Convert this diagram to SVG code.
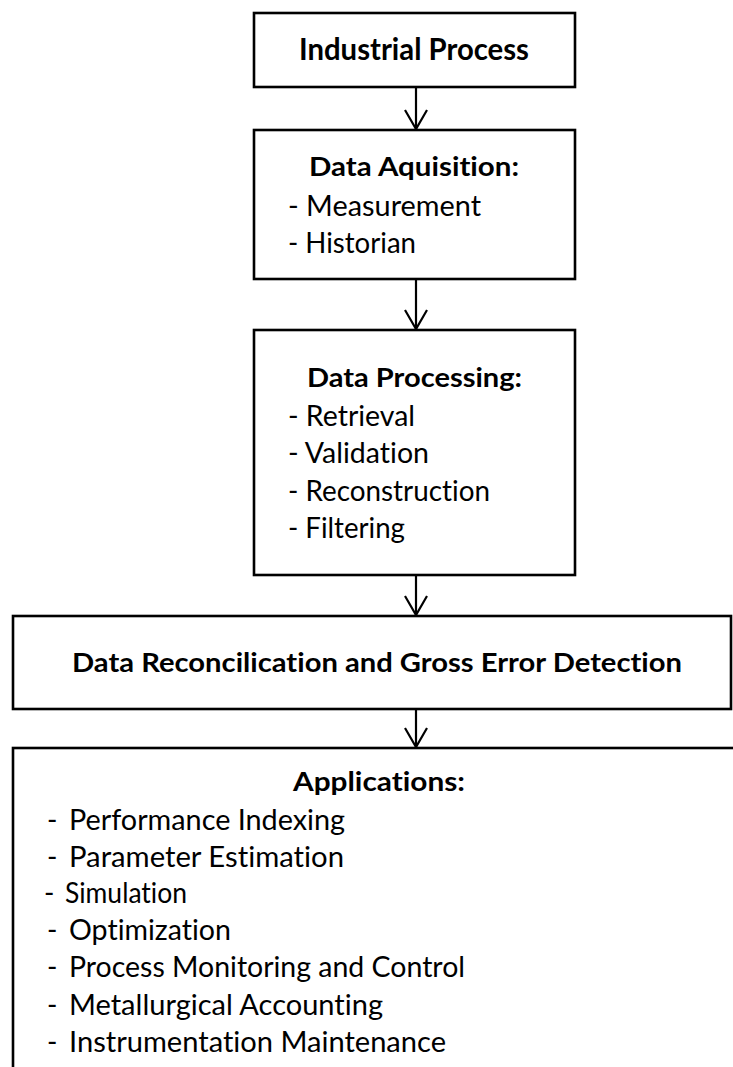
<svg xmlns="http://www.w3.org/2000/svg" width="733" height="1067" viewBox="0 0 733 1067">
  <style>
    .box { fill: #ffffff; stroke: #000000; stroke-width: 2.6; }
    .link { fill: none; stroke: #000000; stroke-width: 2.2; }
    .head { fill: none; stroke: #000000; stroke-width: 2.2; stroke-linejoin: miter; }
    text { font-family: Lato, "Open Sans", "Liberation Sans", sans-serif; fill: #000000; font-variant-ligatures: none; font-feature-settings: "liga" 0, "dlig" 0, "clig" 0; }
    .title { font-weight: bold; font-size: 26.5px; }
    .item { font-size: 28px; }
  </style>
  <rect width="733" height="1067" fill="#ffffff"/>

  <!-- connectors -->
  <g id="connectors">
    <line class="link" x1="416" y1="87" x2="416" y2="129"/>
    <polyline class="head" points="405,110 416,129 427,110"/>
    <line class="link" x1="416" y1="279" x2="416" y2="329"/>
    <polyline class="head" points="405,310 416,329 427,310"/>
    <line class="link" x1="416" y1="575" x2="416" y2="615"/>
    <polyline class="head" points="405,596 416,615 427,596"/>
    <line class="link" x1="416" y1="709" x2="416" y2="747"/>
    <polyline class="head" points="405,728 416,747 427,728"/>
  </g>

  <g id="industrial-process">
    <rect class="box" x="254" y="13" width="321" height="74"/>
    <text class="title" x="299" y="60" style="font-size:29.5px" textLength="230" lengthAdjust="spacingAndGlyphs">Industrial Process</text>
  </g>

  <g id="data-acquisition">
    <rect class="box" x="254" y="130" width="321" height="149"/>
    <text class="title" x="309" y="176" textLength="210" lengthAdjust="spacingAndGlyphs">Data Aquisition:</text>
    <text class="item" x="288" y="216" textLength="193" lengthAdjust="spacingAndGlyphs">- Measurement</text>
    <text class="item" x="288" y="253" textLength="128" lengthAdjust="spacingAndGlyphs">- Historian</text>
  </g>

  <g id="data-processing">
    <rect class="box" x="254" y="330" width="321" height="245"/>
    <text class="title" x="307" y="387" textLength="215" lengthAdjust="spacingAndGlyphs">Data Processing:</text>
    <text class="item" x="288" y="426" textLength="127" lengthAdjust="spacingAndGlyphs">- Retrieval</text>
    <text class="item" x="288" y="463" textLength="141" lengthAdjust="spacingAndGlyphs">- Validation</text>
    <text class="item" x="288" y="501" textLength="202" lengthAdjust="spacingAndGlyphs">- Reconstruction</text>
    <text class="item" x="288" y="538" textLength="117" lengthAdjust="spacingAndGlyphs">- Filtering</text>
  </g>

  <g id="reconciliation">
    <rect class="box" x="13" y="616" width="718" height="93"/>
    <text class="title" x="72" y="672" textLength="610" lengthAdjust="spacingAndGlyphs">Data Reconcilication and Gross Error Detection</text>
  </g>

  <g id="applications">
    <rect class="box" x="13" y="748" width="740" height="340"/>
    <text class="title" x="293" y="791" textLength="172" lengthAdjust="spacingAndGlyphs">Applications:</text>
    <text class="item" x="47" y="830">-</text>
    <text class="item" x="69" y="830" textLength="276" lengthAdjust="spacingAndGlyphs">Performance Indexing</text>
    <text class="item" x="47" y="867">-</text>
    <text class="item" x="69" y="867" textLength="275" lengthAdjust="spacingAndGlyphs">Parameter Estimation</text>
    <text class="item" x="44" y="903">-</text>
    <text class="item" x="65" y="903" textLength="122" lengthAdjust="spacingAndGlyphs">Simulation</text>
    <text class="item" x="47" y="940">-</text>
    <text class="item" x="69" y="940" textLength="162" lengthAdjust="spacingAndGlyphs">Optimization</text>
    <text class="item" x="47" y="977">-</text>
    <text class="item" x="69" y="977" textLength="396" lengthAdjust="spacingAndGlyphs">Process Monitoring and Control</text>
    <text class="item" x="47" y="1015">-</text>
    <text class="item" x="69" y="1015" textLength="314" lengthAdjust="spacingAndGlyphs">Metallurgical Accounting</text>
    <text class="item" x="47" y="1052">-</text>
    <text class="item" x="69" y="1052" textLength="377" lengthAdjust="spacingAndGlyphs">Instrumentation Maintenance</text>
  </g>
</svg>
